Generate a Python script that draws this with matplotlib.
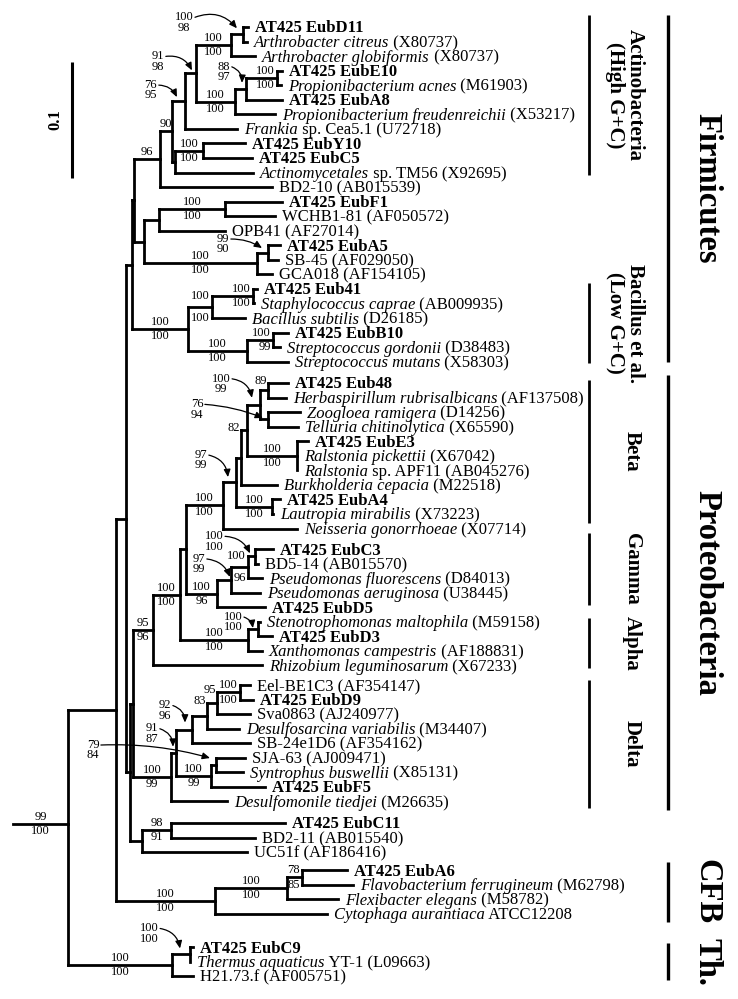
import re
import matplotlib
matplotlib.use("Agg")
import matplotlib.pyplot as plt
from matplotlib.collections import LineCollection

plt.rcParams["font.family"] = ["Liberation Serif", "DejaVu Serif"]

# ---------------- data: tree topology + branch lengths (substitutions/site) ----------------
ARTH = "((t0:0.0043,t1:0.0034)D11c:0.0103,t2:0.0207)Arth:0.0302"
PROP = "(((t3:0.0043,t4:0.0034)Prop1:0.0267,t5:0.0310)Prop2:0.0095,t6:0.0345)Prop3:0.0336"
B_ = f"({ARTH},{PROP})B:0.0095"
C_ = f"({B_},t7:0.0448)C:0.0112"
YCA = "((t8:0.0362,t9:0.0422)YC:0.0241,t10:0.0672)YCA:0.0026"
D_ = f"({C_},{YCA})D:0.0103"
E_ = f"({D_},t11:0.0966)E:0.0224"
H_ = "((t12:0.0491,t13:0.0431)F1W:0.0569,t14:0.0569)H:0.0129"
I_ = "((t15:0.0103,t16:0.0086)A5SB:0.0095,t17:0.0129)I:0.0974"
G_ = f"({H_},{I_})G:0.0086"
F_ = f"({E_},{G_})F:0.0017"
M_ = "((t18:0.0034,t19:0.0009)E41S:0.0353,t20:0.0284)M:0.0207"
N_ = "((t21:0.0129,t22:0.0060)B10G:0.0224,t23:0.0353)N:0.0509"
L_ = f"({M_},{N_})L:0.0483"
J_ = f"({F_},{L_})J:0.0052"
B3 = "((t24:0.0172,t25:0.0155)b1:0.0069,(t26:0.0276,t27:0.0259)b2:0.0069)b3:0.0112"
BE3 = "(t28:0.0095,t29:0.0,t30:0.0)bE3:0.0431"
B4 = f"({B3},{BE3})b4:0.0052"
B5 = f"({B4},t31:0.0310)b5:0.0043"
A4L = "(t32:0.0069,t33:0.0009)A4L:0.0310"
B6 = f"({B5},{A4L})b6:0.0112"
B7 = f"({B6},t34:0.0638)b7:0.0319"
PS = "((((t35:0.0155,t36:0.0026)C3BD:0.0060,t37:0.0121)fl:0.0147,t38:0.0250)aer:0.0121,t39:0.0414)ps:0.0267"
BG = f"({B7},{PS})bg:0.0052"
XA = "((t40:0.0017,t41:0.0121)SD3:0.0086,t42:0.0121)xa:0.0586"
G1 = f"({BG},{XA})g1:0.0233"
N153 = f"({G1},t43:0.0940)n153:0.0172"
D192 = "((((t44:0.0086,t45:0.0112)ED9:0.0198,t46:0.0284)d217:0.0086,t47:0.0276)d207:0.0129,t48:0.0500)d192:0.0138"
D211 = "((t49:0.0250,t50:0.0233)SJS:0.0043,t51:0.0466)d211:0.0302"
D176 = f"({D192},{D211})d176:0.0043"
D171 = f"({D176},t52:0.0483)d171:0.0328"
P133 = f"({N153},{D171})P133:0.0026"
C142 = "((t53:0.0983,t54:0.0724)C11B:0.0250,t55:0.0905)c142:0.0103"
P132 = f"({P133},{C142})P132:0.0034"
N126 = f"({J_},{P132})n126:0.0086"
CFB = "(((t56:0.0388,t57:0.0440)A6F:0.0129,t58:0.0440)c287:0.0621,t59:0.0966)cfb:0.0853"
N116 = f"({N126},{CFB})n116:0.0414"
TH = "((t60:0.0026,t61:0.0)C9T:0.0155,t62:0.0181)th:0.0897"
TREE = f"({N116},{TH})R:0.0474;"

# leaf labels (*...* = italic); AT425 clones are bold
LEAF_LABELS = [
    "AT425 EubD11", "*Arthrobacter citreus* (X80737)", "*Arthrobacter globiformis* (X80737)",
    "AT425 EubE10", "*Propionibacterium acnes* (M61903)", "AT425 EubA8",
    "*Propionibacterium freudenreichii* (X53217)", "*Frankia* sp. Cea5.1 (U72718)",
    "AT425 EubY10", "AT425 EubC5", "*Actinomycetales* sp. TM56 (X92695)", "BD2-10 (AB015539)",
    "AT425 EubF1", "WCHB1-81 (AF050572)", "OPB41 (AF27014)", "AT425 EubA5", "SB-45 (AF029050)",
    "GCA018 (AF154105)", "AT425 Eub41", "*Staphylococcus caprae* (AB009935)",
    "*Bacillus subtilis* (D26185)", "AT425 EubB10", "*Streptococcus gordonii* (D38483)",
    "*Streptococcus mutans* (X58303)", "AT425 Eub48", "*Herbaspirillum rubrisalbicans* (AF137508)",
    "*Zoogloea ramigera* (D14256)", "*Telluria chitinolytica* (X65590)", "AT425 EubE3",
    "*Ralstonia pickettii* (X67042)", "*Ralstonia* sp. APF11 (AB045276)",
    "*Burkholderia cepacia* (M22518)", "AT425 EubA4", "*Lautropia mirabilis* (X73223)",
    "*Neisseria gonorrhoeae* (X07714)", "AT425 EubC3", "BD5-14 (AB015570)",
    "*Pseudomonas fluorescens* (D84013)", "*Pseudomonas aeruginosa* (U38445)", "AT425 EubD5",
    "*Stenotrophomonas maltophila* (M59158)", "AT425 EubD3", "*Xanthomonas campestris* (AF188831)",
    "*Rhizobium leguminosarum* (X67233)", "Eel-BE1C3 (AF354147)", "AT425 EubD9",
    "Sva0863 (AJ240977)", "*Desulfosarcina variabilis* (M34407)", "SB-24e1D6 (AF354162)",
    "SJA-63 (AJ009471)", "*Syntrophus buswellii* (X85131)", "AT425 EubF5",
    "*Desulfomonile tiedjei* (M26635)", "AT425 EubC11", "BD2-11 (AB015540)", "UC51f (AF186416)",
    "AT425 EubA6", "*Flavobacterium ferrugineum* (M62798)", "*Flexibacter elegans* (M58782)",
    "*Cytophaga aurantiaca* ATCC12208", "AT425 EubC9", "*Thermus aquaticus* YT-1 (L09663)",
    "H21.73.f (AF005751)",
]

# bootstrap support (upper / lower) per internal node
SUPPORT = {
    "D11c": ("100", "98"), "Arth": ("100", "100"), "B": ("91", "98"), "Prop1": ("100", "100"),
    "Prop2": ("88", "97"), "Prop3": ("100", "100"), "C": ("76", "95"), "D": ("90", ""),
    "E": ("96", ""), "YC": ("100", "100"), "F1W": ("100", "100"), "A5SB": ("99", "90"),
    "I": ("100", "100"), "E41S": ("100", "100"), "M": ("100", "100"), "L": ("100", "100"),
    "B10G": ("100", "99"), "N": ("100", "100"), "b1": ("89", ""), "b3": ("100", "99"),
    "b2": ("76", "94"), "b5": ("82", ""), "b6": ("97", "99"), "bE3": ("100", "100"),
    "A4L": ("100", "100"), "b7": ("100", "100"), "C3BD": ("100", "100"), "fl": ("100", "96"),
    "aer": ("97", "99"), "ps": ("100", "96"), "g1": ("100", "100"), "xa": ("100", "100"),
    "SD3": ("100", "100"), "n153": ("95", "96"), "ED9": ("100", "100"), "d217": ("95", ""),
    "d207": ("83", ""), "d192": ("92", "96"), "d176": ("91", "87"), "SJS": ("79", "84"),
    "d211": ("100", "99"), "d171": ("100", "99"), "C11B": ("98", "91"), "cfb": ("100", "100"),
    "c287": ("100", "100"), "A6F": ("78", "85"), "th": ("100", "100"), "C9T": ("100", "100"),
    "R": ("99", "100"),
}

# taxonomic groups: (label, first leaf, last leaf)
SMALL_GROUPS = [
    ("Actinobacteria\n(High G+C)", 0, 10), ("Bacillus et al.\n(Low G+C)", 18, 23),
    ("Beta", 24, 34), ("Gamma", 35, 39), ("Alpha", 40, 43), ("Delta", 44, 52),
]
BIG_GROUPS = [("Firmicutes", 0, 23), ("Proteobacteria", 24, 52), ("CFB", 56, 59), ("Th.", 60, 62)]
SCALE_VALUE = 0.1

# ---------------- layout (positions / styles) ----------------
PX_PER_SUB = 1160.0
X_ORIGIN = 13.0
Y0, STEP = 27.0, 14.55
GAPS = {24: 6.8, 35: 6.0, 44: 5.0, 53: 7.0, 56: 3.4, 60: 19.0}
ROOT_Y_FRAC = 0.447
LABEL_GAP = 7.0
LEAF_FS = 12
SUP_FS = 9
TREE_LW = 2.0

SMALL_PAD = {0: (-12, 2.5), 1: (-6, 1.5), 2: (-3, -5.5), 3: (-16, -2), 4: (-4, 2.5), 5: (-5, 6.6)}
BIG_PAD = {0: (-12, 0.5), 1: (-8, 8.6), 2: (-8, 8), 3: (-4, 4)}
SMALL_BAR_X, SMALL_TXT_X = 589, 625
BIG_BAR_X, BIG_TXT_X = 668, 707

LABEL_MODE = {"Prop1": "node", "E41S": "node", "M": "node", "B10G": "node", "fl": "node",
              "ED9": "node", "A6F": "node", "b1": "top", "b5": "top", "d217": "top", "d207": "top"}
# arrows: node -> (text dx, text dy, head dx, head dy, rad)
ARROWS = {
    "D11c": (-59, -12, -6, -6, -0.35), "B": (-38, -12, -4, -3, -0.35),
    "Prop2": (-22, -17, -4, -6, -0.35), "C": (-34, -11, -8, -4, -0.3),
    "A5SB": (-45, -8.5, -6, -4.5, -0.15), "b3": (-39, -21, -8, -7, -0.35),
    "b2": (-71, -10, -5, -1.4, -0.08), "b6": (-35, -22, -8, -5, -0.35),
    "C3BD": (-41, -15, -5, -3, -0.3), "aer": (-32, -16, -1, -3, -0.3),
    "SD3": (-25, -7, -5, -1, -0.3), "d192": (-27, -19, -7, -7, -0.35),
    "d176": (-24, -19, -3, -6, -0.35), "SJS": (-123, -15, -6, -7, -0.08),
    "C9T": (-41, -21, -10, -6, -0.35),
}


def parse_newick(s):
    s = s.replace(" ", "").rstrip(";")
    pos = 0

    def node():
        nonlocal pos
        nd = {"children": [], "name": "", "length": 0.0}
        if s[pos] == "(":
            pos += 1
            while True:
                nd["children"].append(node())
                if s[pos] == ",":
                    pos += 1
                else:
                    pos += 1
                    break
        m = re.match(r"([^:,()]*)(?::([0-9.eE+-]+))?", s[pos:])
        nd["name"] = m.group(1)
        if m.group(2):
            nd["length"] = float(m.group(2))
        pos += m.end()
        return nd

    return node()


root = parse_newick(TREE)
nodes = {}
leaves = []


def layout_x(nd, px):
    nd["px"] = px
    nd["x"] = px + nd["length"] * PX_PER_SUB
    nodes[nd["name"]] = nd
    if not nd["children"]:
        leaves.append(nd)
    for c in nd["children"]:
        layout_x(c, nd["x"])


layout_x(root, X_ORIGIN)

extra = 0.0
leaf_y = []
for i, lf in enumerate(leaves):
    extra += GAPS.get(i, 0.0)
    lf["y"] = Y0 + STEP * i + extra
    leaf_y.append(lf["y"])


def layout_y(nd, frac=0.5):
    if nd["children"]:
        for c in nd["children"]:
            layout_y(c)
        a, b = nd["children"][0]["y"], nd["children"][-1]["y"]
        nd["y"] = a + frac * (b - a)


for c in root["children"]:
    layout_y(c)
a, b = root["children"][0]["y"], root["children"][-1]["y"]
root["y"] = a + ROOT_Y_FRAC * (b - a)

fig = plt.figure(figsize=(7.38, 9.99), dpi=100)
ax = fig.add_axes([0, 0, 1, 1])
ax.set_xlim(0, 738)
ax.set_ylim(999, 0)
ax.axis("off")

segs = []
for nd in nodes.values():
    if nd["x"] - nd["px"] > 0.01:
        segs.append([(nd["px"], nd["y"]), (nd["x"], nd["y"])])
    if nd["children"]:
        segs.append([(nd["x"], nd["children"][0]["y"]), (nd["x"], nd["children"][-1]["y"])])
ax.add_collection(LineCollection(segs, colors="black", linewidths=TREE_LW, capstyle="projecting"))

# leaf labels
for lf, lab in zip(leaves, LEAF_LABELS):
    x, yb = lf["x"] + LABEL_GAP, lf["y"] + 5.5
    if lab.startswith("AT425"):
        ax.text(x, yb, lab, fontsize=LEAF_FS, fontweight="bold", va="baseline", ha="left")
        continue
    parts = lab.split("*")
    prev = None
    for k, seg in enumerate(parts):
        if not seg:
            continue
        style = "italic" if k % 2 == 1 else "normal"
        if prev is None:
            prev = ax.text(x, yb, seg, fontsize=LEAF_FS, fontstyle=style, va="baseline", ha="left")
        else:
            prev = ax.annotate(seg, xy=(1, yb), xycoords=(prev, "data"), fontsize=LEAF_FS,
                               fontstyle=style, va="baseline", ha="left")

# support values
for name, (up, lo) in SUPPORT.items():
    nd = nodes[name]
    if name in ARROWS:
        tdx, tdy, hdx, hdy, rad = ARROWS[name]
        tx, ty = nd["x"] + tdx, nd["y"] + tdy
        ax.text(tx, ty, f"{up}\n{lo}", fontsize=SUP_FS, ha="center", va="center",
                multialignment="center", linespacing=0.85)
        tail = (tx + len(up) * 3.2 + 1.5, ty - 5)
        head = (nd["x"] + hdx, nd["y"] + hdy)
        ax.annotate("", xy=head, xytext=tail,
                    arrowprops=dict(arrowstyle="-|>,head_length=0.45,head_width=0.2",
                                    connectionstyle=f"arc3,rad={rad}", lw=0.9, color="black",
                                    shrinkA=0, shrinkB=0))
        continue
    mode = LABEL_MODE.get(name, "stem")
    if mode == "stem":
        xm = (nd["px"] + nd["x"]) / 2
        ax.text(xm, nd["y"] - 1, up, fontsize=SUP_FS, ha="center", va="bottom")
        if lo:
            ax.text(xm, nd["y"] + 1, lo, fontsize=SUP_FS, ha="center", va="top")
    elif mode == "node":
        ax.text(nd["x"] - 2, nd["children"][0]["y"], up, fontsize=SUP_FS, ha="right", va="center")
        ax.text(nd["x"] - 2, nd["children"][-1]["y"], lo, fontsize=SUP_FS, ha="right", va="center")
    else:
        ax.text(nd["x"] - 1, nd["children"][0]["y"] - 2, up, fontsize=SUP_FS, ha="right", va="center")

# scale bar
sb_top = 62
ax.plot([72, 72], [sb_top, sb_top + SCALE_VALUE * PX_PER_SUB], color="black", lw=2.2,
        solid_capstyle="butt")
ax.text(55, sb_top + SCALE_VALUE * PX_PER_SUB / 2, f"{SCALE_VALUE}", rotation=90, fontsize=12,
        fontweight="bold", ha="center", va="center")

# group bars
for gi, (lab, i0, i1) in enumerate(SMALL_GROUPS):
    p0, p1 = SMALL_PAD[gi]
    y0, y1 = leaf_y[i0] + p0, leaf_y[i1] + p1
    ax.plot([SMALL_BAR_X, SMALL_BAR_X], [y0, y1], color="black", lw=2.0, solid_capstyle="butt")
    ax.text(SMALL_TXT_X + (0 if "\n" in lab else 7), (y0 + y1) / 2, lab, rotation=-90,
            fontsize=15, fontweight="bold", ha="center", va="center", multialignment="center",
            linespacing=1.0)
for gi, (lab, i0, i1) in enumerate(BIG_GROUPS):
    p0, p1 = BIG_PAD[gi]
    y0, y1 = leaf_y[i0] + p0, leaf_y[i1] + p1
    ax.plot([BIG_BAR_X, BIG_BAR_X], [y0, y1], color="black", lw=2.4, solid_capstyle="butt")
    ax.text(BIG_TXT_X, (y0 + y1) / 2, lab, rotation=-90, fontsize=23.5, fontweight="bold",
            ha="center", va="center")

fig.savefig("out.png", dpi=100, facecolor="white")
